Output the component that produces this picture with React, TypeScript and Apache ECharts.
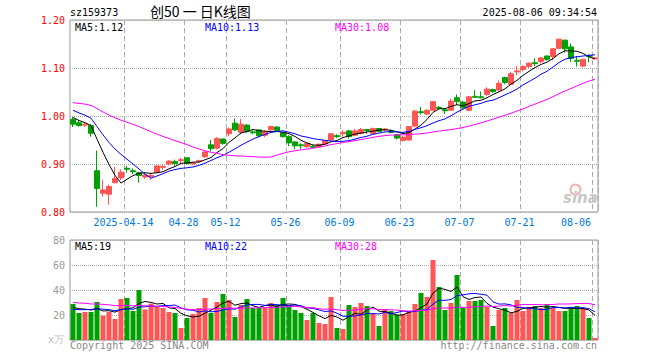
import React, { useEffect, useRef } from 'react';
import * as echarts from 'echarts';

const dates = [
  '2025-03-31', '2025-04-01', '2025-04-02', '2025-04-03', '2025-04-07', '2025-04-08', '2025-04-09', '2025-04-10', '2025-04-11',
  '2025-04-14', '2025-04-15', '2025-04-16', '2025-04-17', '2025-04-18', '2025-04-21', '2025-04-22', '2025-04-23', '2025-04-24', '2025-04-25',
  '2025-04-28', '2025-04-29', '2025-04-30', '2025-05-06', '2025-05-07', '2025-05-08', '2025-05-09',
  '2025-05-12', '2025-05-13', '2025-05-14', '2025-05-15', '2025-05-16', '2025-05-19', '2025-05-20', '2025-05-21', '2025-05-22', '2025-05-23',
  '2025-05-26', '2025-05-27', '2025-05-28', '2025-05-29', '2025-05-30', '2025-06-03', '2025-06-04', '2025-06-05', '2025-06-06',
  '2025-06-09', '2025-06-10', '2025-06-11', '2025-06-12', '2025-06-13', '2025-06-16', '2025-06-17', '2025-06-18', '2025-06-19', '2025-06-20',
  '2025-06-23', '2025-06-24', '2025-06-25', '2025-06-26', '2025-06-27', '2025-06-30', '2025-07-01', '2025-07-02', '2025-07-03', '2025-07-04',
  '2025-07-07', '2025-07-08', '2025-07-09', '2025-07-10', '2025-07-11', '2025-07-14', '2025-07-15', '2025-07-16', '2025-07-17', '2025-07-18',
  '2025-07-21', '2025-07-22', '2025-07-23', '2025-07-24', '2025-07-25', '2025-07-28', '2025-07-29', '2025-07-30', '2025-07-31', '2025-08-01',
  '2025-08-04', '2025-08-05', '2025-08-06',
];

const opens = [
  0.993, 0.986, 0.981, 0.980, 0.886, 0.839, 0.837, 0.861, 0.871, 0.891,
  0.886, 0.882, 0.873, 0.874, 0.883, 0.893, 0.900, 0.905, 0.907, 0.913,
  0.900, 0.905, 0.915, 0.940, 0.933, 0.952, 0.963, 0.985, 0.966, 0.981,
  0.967, 0.971, 0.960, 0.971, 0.977, 0.965, 0.957, 0.946, 0.940, 0.936,
  0.937, 0.936, 0.942, 0.950, 0.959, 0.963, 0.969, 0.960, 0.964, 0.972,
  0.963, 0.974, 0.971, 0.968, 0.961, 0.949, 0.950, 0.979, 1.009, 1.004,
  1.012, 1.018, 1.013, 1.012, 1.038, 1.029, 1.012, 1.041, 1.040, 1.045,
  1.055, 1.054, 1.080, 1.066, 1.092, 1.097, 1.103, 1.111, 1.113, 1.125,
  1.124, 1.141, 1.158, 1.144, 1.116, 1.104, 1.126, 1.119,
];
const closes = [
  0.983, 0.980, 0.983, 0.964, 0.849, 0.846, 0.853, 0.870, 0.883, 0.889,
  0.884, 0.876, 0.877, 0.876, 0.896, 0.895, 0.906, 0.901, 0.909, 0.901,
  0.902, 0.907, 0.925, 0.932, 0.953, 0.943, 0.973, 0.971, 0.983, 0.968,
  0.965, 0.959, 0.967, 0.978, 0.970, 0.957, 0.944, 0.938, 0.938, 0.943,
  0.935, 0.941, 0.949, 0.963, 0.957, 0.966, 0.957, 0.969, 0.972, 0.970,
  0.974, 0.968, 0.973, 0.966, 0.954, 0.956, 0.978, 1.010, 1.007, 1.012,
  1.030, 1.016, 1.011, 1.031, 1.030, 1.017, 1.040, 1.039, 1.038, 1.056,
  1.051, 1.068, 1.070, 1.088, 1.094, 1.103, 1.110, 1.109, 1.121, 1.118,
  1.140, 1.160, 1.140, 1.120, 1.114, 1.118, 1.124, 1.121,
];
const highs = [
  0.998, 0.992, 0.986, 0.983, 0.928, 0.867, 0.857, 0.894, 0.889, 0.896,
  0.891, 0.883, 0.879, 0.882, 0.897, 0.899, 0.908, 0.909, 0.913, 0.914,
  0.904, 0.909, 0.927, 0.950, 0.956, 0.953, 0.976, 0.995, 0.994, 0.983,
  0.970, 0.972, 0.970, 0.980, 0.979, 0.966, 0.960, 0.948, 0.943, 0.945,
  0.939, 0.943, 0.950, 0.964, 0.962, 0.970, 0.971, 0.973, 0.975, 0.973,
  0.976, 0.975, 0.975, 0.972, 0.962, 0.958, 0.979, 1.013, 1.019, 1.014,
  1.031, 1.021, 1.016, 1.036, 1.045, 1.031, 1.042, 1.054, 1.051, 1.060,
  1.057, 1.074, 1.082, 1.092, 1.104, 1.106, 1.112, 1.120, 1.123, 1.126,
  1.142, 1.161, 1.159, 1.151, 1.125, 1.119, 1.129, 1.123,
];
const lows = [
  0.977, 0.978, 0.977, 0.957, 0.811, 0.832, 0.815, 0.860, 0.867, 0.882,
  0.879, 0.861, 0.869, 0.867, 0.882, 0.888, 0.897, 0.896, 0.902, 0.899,
  0.898, 0.903, 0.913, 0.926, 0.930, 0.940, 0.958, 0.969, 0.962, 0.965,
  0.962, 0.955, 0.956, 0.970, 0.968, 0.955, 0.937, 0.931, 0.931, 0.934,
  0.933, 0.934, 0.941, 0.948, 0.954, 0.957, 0.953, 0.958, 0.962, 0.963,
  0.962, 0.966, 0.968, 0.964, 0.951, 0.947, 0.949, 0.976, 1.003, 1.002,
  1.010, 1.014, 1.004, 1.011, 1.023, 1.015, 1.010, 1.038, 1.037, 1.042,
  1.048, 1.052, 1.066, 1.064, 1.085, 1.093, 1.100, 1.104, 1.110, 1.115,
  1.116, 1.139, 1.132, 1.113, 1.103, 1.101, 1.112, 1.118,
];
const volumes = [
  28.8, 21.6, 22.4, 22.4, 30.4, 19.5, 22.4, 16.8, 32.8, 33.6,
  23.2, 40.0, 24.5, 29.1, 27.2, 25.6, 22.4, 21.6, 9.6, 17.6,
  20.8, 25.6, 33.6, 21.6, 30.4, 36.8, 32.0, 18.4, 28.0, 32.8,
  25.6, 25.6, 25.6, 29.6, 28.0, 33.6, 27.2, 24.0, 21.6, 16.0,
  21.6, 13.6, 12.8, 34.4, 9.6, 8.8, 28.0, 26.4, 29.6, 27.2,
  20.8, 11.2, 24.8, 23.2, 20.0, 20.8, 22.4, 28.8, 37.6, 34.4,
  64.0, 42.4, 24.0, 29.6, 52.0, 25.6, 31.2, 31.2, 32.0, 26.4,
  11.2, 24.0, 25.6, 21.6, 32.0, 23.2, 26.4, 27.2, 25.6, 28.8,
  25.6, 23.2, 23.2, 26.4, 27.2, 25.6, 17.6, 1.6,
];
// sessions before the visible window, only used to start the moving averages
const prevCloses = [
  1.02, 1.03, 1.04, 1.05, 1.06, 1.05, 1.04, 1.03, 1.02, 1.01,
  1.02, 1.03, 1.04, 1.05, 1.04, 1.03, 1.04, 1.03, 1.02, 1.06,
  1.035, 1.030, 1.028, 1.022, 1.020, 1.012, 1.005, 0.995, 0.990,
];
const prevVolumes = [
  35, 30, 38, 32, 28, 34, 36, 30, 33, 31,
  29, 35, 37, 32, 30, 34, 33, 31, 36, 33,
  24, 22, 21, 25, 22.5, 27, 24, 26, 24.7,
];
const xLabelDates = ['2025-04-14', '2025-04-28', '2025-05-12', '2025-05-26', '2025-06-09', '2025-06-23', '2025-07-07', '2025-07-21', '2025-08-06'];
const priceLegend = ['MA5:1.12', 'MA10:1.13', 'MA30:1.08'];
const volLegend = ['MA5:19', 'MA10:22', 'MA30:28'];

const RED = '#FF5555';
const GREEN = '#00A000';
const MONO = "'DejaVu Sans Mono', 'Liberation Mono', monospace";

function movingAvg(prev: number[], cur: number[], n: number): number[] {
  const all = prev.concat(cur);
  const off = prev.length;
  return cur.map((_, i) => {
    let s = 0;
    for (let k = off + i - n + 1; k <= off + i; k++) s += all[k];
    return +(s / n).toFixed(4);
  });
}

export default function App() {
  const ref = useRef<HTMLDivElement>(null);
  useEffect(() => {
    document.body.style.margin = '0';
    const chart = echarts.init(ref.current!, null, { renderer: 'svg' });
    const labelSet = new Set(xLabelDates.map((d) => dates.indexOf(d)));
    const lastIdx = dates.indexOf(xLabelDates[xLabelDates.length - 1]);
    const firstIdx = dates.indexOf(xLabelDates[0]);
    const isMark = (i: number) => labelSet.has(i);

    const candles = dates.map((_, i) => [opens[i], closes[i], lows[i], highs[i]]);
    const volBars = volumes.map((v, i) => ({
      value: v,
      itemStyle: { color: closes[i] >= opens[i] ? RED : GREEN },
    }));

    const lineS = (name: string, data: number[], color: string, xi: number) => ({
      name,
      type: 'line',
      xAxisIndex: xi,
      yAxisIndex: xi,
      data,
      symbol: 'none',
      silent: true,
      lineStyle: { color, width: 1 },
      z: 5,
    });

    const splitV = {
      show: true,
      interval: (i: number) => isMark(i),
      lineStyle: { color: '#AAAAAA', type: [5, 3], width: 1 },
    };

    const legendText = (items: string[], y: number) =>
      items.map((t, k) => ({
        type: 'text',
        left: [75, 205, 335][k],
        top: y,
        z: 20,
        style: { text: t, fill: ['#000000', '#0000FF', '#FF00FF'][k], font: `10px ${MONO}` },
      }));

    const option: any = {
      animation: false,
      backgroundColor: '#FFFFFF',
      textStyle: { fontFamily: MONO },
      grid: [
        { left: 70, right: 62, top: 20, height: 192, show: true, borderColor: '#999999', borderWidth: 1, backgroundColor: 'transparent' },
        { left: 70, right: 62, top: 240, height: 100, show: true, borderColor: '#999999', borderWidth: 1, backgroundColor: 'transparent' },
      ],
      xAxis: [
        {
          type: 'category',
          gridIndex: 0,
          data: dates,
          boundaryGap: true,
          axisLine: { show: false },
          axisTick: { show: false },
          axisLabel: {
            interval: (i: number) => isMark(i),
            margin: 5,
            formatter: (v: string, i: number) => {
              if (i === lastIdx) return `{r|${v.slice(5)}}`;
              if (i === firstIdx) return `{c|${v}}`;
              return `{c|${v.slice(5)}}`;
            },
            rich: {
              c: { color: '#0078D7', fontSize: 10, fontFamily: MONO, padding: [0, 7, 0, 0] },
              r: { color: '#0078D7', fontSize: 10, fontFamily: MONO, padding: [0, 38, 0, 0] },
            },
          },
          splitLine: splitV,
        },
        {
          type: 'category',
          gridIndex: 1,
          data: dates,
          boundaryGap: true,
          axisLine: { show: false },
          axisTick: { show: false },
          axisLabel: { show: false },
          splitLine: splitV,
        },
      ],
      yAxis: [
        {
          type: 'value',
          gridIndex: 0,
          min: 0.8,
          max: 1.2,
          interval: 0.1,
          axisLine: { show: false },
          axisTick: { show: false },
          axisLabel: { color: '#FF0000', fontSize: 10, fontFamily: MONO, margin: 5, formatter: (v: number) => v.toFixed(2) },
          splitLine: { show: true, lineStyle: { color: '#AAAAAA', type: [1, 1], width: 1 } },
        },
        {
          type: 'value',
          gridIndex: 1,
          min: 0,
          max: 80,
          interval: 20,
          axisLine: { show: false },
          axisTick: { show: false },
          axisLabel: { color: '#999999', fontSize: 10, fontFamily: MONO, margin: 5, formatter: (v: number) => (v === 0 ? '' : String(v)) },
          splitLine: { show: true, lineStyle: { color: '#AAAAAA', type: [1, 1], width: 1 } },
        },
      ],
      series: [
        {
          type: 'candlestick',
          xAxisIndex: 0,
          yAxisIndex: 0,
          data: candles,
          barWidth: 5,
          itemStyle: { color: RED, color0: GREEN, borderColor: RED, borderColor0: GREEN, borderWidth: 1 },
        },
        lineS('MA5', movingAvg(prevCloses, closes, 5), '#000000', 0),
        lineS('MA10', movingAvg(prevCloses, closes, 10), '#0000FF', 0),
        lineS('MA30', movingAvg(prevCloses, closes, 30), '#FF00FF', 0),
        {
          type: 'bar',
          xAxisIndex: 1,
          yAxisIndex: 1,
          data: volBars,
          barWidth: 5,
        },
        lineS('VMA5', movingAvg(prevVolumes, volumes, 5), '#000000', 1),
        lineS('VMA10', movingAvg(prevVolumes, volumes, 10), '#0000FF', 1),
        lineS('VMA30', movingAvg(prevVolumes, volumes, 30), '#FF00FF', 1),
      ],
      graphic: [
        { type: 'text', left: 70, top: 7, style: { text: 'sz159373', fill: '#000', font: `10px ${MONO}` } },
        { type: 'text', left: 150, top: 4, style: { text: '创50 一 日K线图', fill: '#000', font: "14px 'Noto Sans CJK SC', sans-serif" } },
        { type: 'text', right: 63, top: 7, style: { text: '2025-08-06 09:34:54', fill: '#000', font: `10px ${MONO}` } },
        ...legendText(priceLegend, 22),
        ...legendText(volLegend, 241),
        { type: 'text', left: 70, top: 340, style: { text: 'Copyright 2025 SINA.COM', fill: '#888888', font: `10px ${MONO}` } },
        { type: 'text', right: 63, top: 340, style: { text: 'http://finance.sina.com.cn', fill: '#888888', font: `10px ${MONO}` } },
        { type: 'text', left: 48, top: 334, style: { text: 'x万', fill: '#BBBBBB', font: `10px ${MONO}` } },
        { type: 'circle', left: 568, top: 182, z: 1, shape: { r: 5 }, style: { fill: 'none', stroke: '#F4B0B0', lineWidth: 2 } },
        { type: 'text', left: 563, top: 190, z: 1, style: { text: 'sina', fill: '#C8C8C8', font: "italic bold 15px 'DejaVu Sans', sans-serif" } },
      ],
    };
    chart.setOption(option);
    return () => chart.dispose();
  }, []);
  return <div ref={ref} style={{ position: 'fixed', left: 0, top: 0, width: 660, height: 360, background: '#fff' }} />;
}
